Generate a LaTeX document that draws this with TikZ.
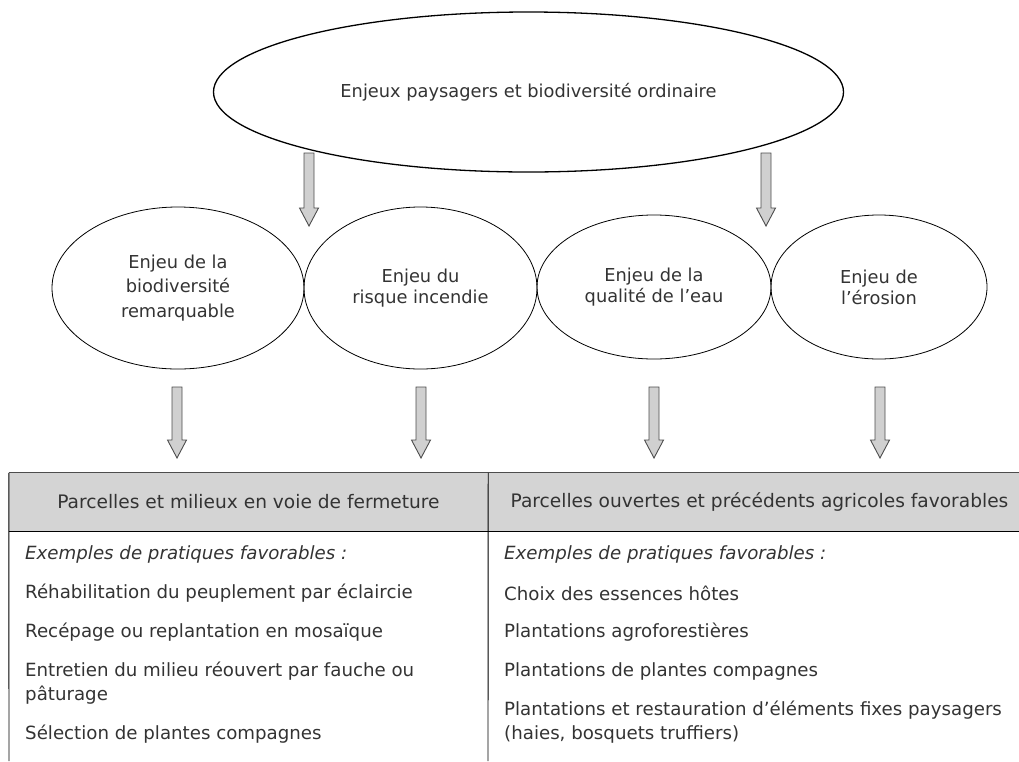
\documentclass[tikz,border=0pt]{standalone}
\usepackage{fontspec}
\setmainfont{DejaVu Sans}
\usepackage{xcolor}
\usepackage{tikz}
\usetikzlibrary{shapes.geometric, calc}

\definecolor{txtgray}{HTML}{333333}
\definecolor{arrowfill}{HTML}{D0D0D0}
\definecolor{arrowline}{HTML}{4D4D4D}
\definecolor{headfill}{HTML}{D4D4D4}

\tikzset{
  enjeu/.style={draw, ellipse, inner sep=0pt, align=center, line width=0.8pt,
    text=txtgray, font=\fontsize{17.8}{21}\selectfont},
  headcell/.style={fill=headfill, inner sep=0pt, text=txtgray,
    font=\fontsize{18.6}{22}\selectfont, minimum height=58pt},
  pratique/.style={anchor=west, inner sep=0pt, align=left, text=txtgray,
    font=\fontsize{18.2}{24}\selectfont},
  blockarrow/.style={fill=arrowfill, draw=arrowline, line width=0.9pt, line join=miter}
}

% fleche creuse verticale entre deux coordonnees
\newcommand{\blockarrow}[2]{%
  \draw[blockarrow] ($(#1)+(-5,0)$) -- ($(#2)+(-5,-18)$) -- ($(#2)+(-9.5,-18)$)
    -- (#2) -- ($(#2)+(9.5,-18)$) -- ($(#2)+(5,-18)$) -- ($(#1)+(5,0)$) -- cycle;}

\begin{document}
\begin{tikzpicture}[x=1pt, y=-1pt]

  \clip (0,0) rectangle (1019,761);

  \node[draw, ellipse, line width=1.3pt, minimum width=630pt, minimum height=160pt,
    inner sep=0pt, text=txtgray, font=\fontsize{17.8}{21}\selectfont] (ordinaire) at (528.5,92)
  {Enjeux paysagers et biodiversité ordinaire};

  \node[enjeu, minimum width=252pt, minimum height=162pt,
    font=\fontsize{17.8}{24.5}\selectfont] (remarquable) at (178,288)
  {Enjeu de la\\biodiversité\\remarquable};

  \node[enjeu, minimum width=233pt, minimum height=162pt] (incendie) at (420.5,288)
  {Enjeu du\\risque incendie};

  \node[enjeu, minimum width=234pt, minimum height=144pt] (eau) at (654,287)
  {Enjeu de la\\qualité de l’eau};

  \node[enjeu, minimum width=216pt, minimum height=144pt] (erosion) at (879,287)
  {Enjeu de\\l’érosion};

  % tableau
  \node[headcell, minimum width=479pt] (fermeture) at (248.5,502)
  {Parcelles et milieux en voie de fermeture};
  \node[headcell, minimum width=543pt] (ouvertes) at (759.5,502)
  {Parcelles ouvertes et précédents agricoles favorables};

  \draw[arrowline, line width=1pt] (fermeture.north west) -- (ouvertes.north east);
  \draw[line width=0.9pt] (fermeture.south west) -- (ouvertes.south east);
  \draw[line width=0.9pt] (fermeture.north west) -- (9,761);
  \draw[line width=0.9pt] (fermeture.north east) -- (488,761);

  \node[pratique] (exg) at (25,554) {\itshape Exemples de pratiques favorables :};
  \node[pratique] (rehab) at (25,593) {Réhabilitation du peuplement par éclaircie};
  \node[pratique] (recepage) at (25,632) {Recépage ou replantation en mosaïque};
  \node[pratique] (entretien) at (25,683) {Entretien du milieu réouvert par fauche ou\\pâturage};
  \node[pratique] (selection) at (25,734) {Sélection de plantes compagnes};

  \node[pratique] (exd) at (504,554) {\itshape Exemples de pratiques favorables :};
  \node[pratique] (choix) at (504,593) {Choix des essences hôtes};
  \node[pratique] (agrofor) at (504,632) {Plantations agroforestières};
  \node[pratique] (compagnes) at (504,671) {Plantations de plantes compagnes};
  \node[pratique] (fixes) at (504,722) {Plantations et restauration d’éléments fixes paysagers\\(haies, bosquets truffiers)};

  % fleches
  \coordinate (o1) at (309,153);
  \coordinate (o1t) at (309,226);
  \coordinate (o2) at (766,153);
  \coordinate (o2t) at (766,226);
  \blockarrow{o1}{o1t}
  \blockarrow{o2}{o2t}

  \coordinate (r1) at (177,387);
  \coordinate (r2) at (421,387);
  \coordinate (r3) at (654,387);
  \coordinate (r4) at (880,387);
  \coordinate (r1t) at (177,458);
  \coordinate (r2t) at (421,458);
  \coordinate (r3t) at (654,458);
  \coordinate (r4t) at (880,458);
  \blockarrow{r1}{r1t}
  \blockarrow{r2}{r2t}
  \blockarrow{r3}{r3t}
  \blockarrow{r4}{r4t}

\end{tikzpicture}
\end{document}
